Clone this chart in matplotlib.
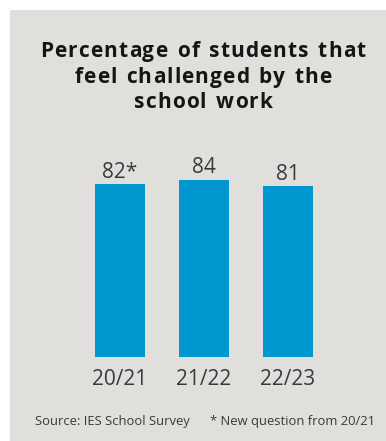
import matplotlib
matplotlib.use("Agg")
import matplotlib.pyplot as plt
from matplotlib.patches import Rectangle
from matplotlib.font_manager import FontProperties

categories = ["20/21", "21/22", "22/23"]
values = [82, 84, 81]
value_labels = ["82*", "84", "81"]
title_lines = ["Percentage of students that", "feel challenged by the", "school work"]
source_note = "Source: IES School Survey"
footnote = "* New question from 20/21"

W, H = 386, 441
DPI = 100
BG = "#E0DFDB"
BAR = "#0097D1"
TXT = "#3a3a3a"

plt.rcParams["font.family"] = ["Open Sans", "DejaVu Sans"]

fig = plt.figure(figsize=(W / DPI, H / DPI), dpi=DPI)
fig.patch.set_facecolor("white")
fig.patches.append(Rectangle((10 / W, 0), 1 - 10 / W, 1 - 10 / H,
                             transform=fig.transFigure, facecolor=BG,
                             edgecolor="none", zorder=-10))

# axes placed in pixel terms
ax_left, ax_right = 60, 350
ax_bottom, ax_top = 356.7, 140
ax = fig.add_axes([ax_left / W, 1 - ax_bottom / H,
                   (ax_right - ax_left) / W, (ax_bottom - ax_top) / H])
ax.set_facecolor("none")
ax.set_zorder(1)
spacing = 84.0
ax.set_xlim(-(120 - ax_left) / spacing, 2 + (ax_right - 288) / spacing)
px_per_unit = (ax_bottom - 180) / 84
ax.set_ylim(0, (ax_bottom - ax_top) / px_per_unit)

x = list(range(len(categories)))
ax.bar(x, values, width=50 / spacing, color=BAR, zorder=2)
for xi, v, lab in zip(x, values, value_labels):
    ax.annotate(lab, (xi, v), xytext=(0, 1.2), textcoords="offset points",
                ha="center", va="bottom", fontsize=15, color=TXT)

ax.set_xticks(x)
ax.set_xticklabels(categories, fontsize=15, color=TXT)
ax.tick_params(axis="x", length=0, pad=8.5)
ax.set_yticks([])
for s in ax.spines.values():
    s.set_visible(False)

# title drawn with letter tracking, one line at a time
renderer = fig.canvas.get_renderer()
tprop = FontProperties(family=["Open Sans", "DejaVu Sans"], weight="bold", size=15)
tracking = 1.1   # extra px between characters
word_gap = 2.0   # extra px for spaces
title_cx = 203
baselines = [57.3, 83.0, 108.5]
for line, base in zip(title_lines, baselines):
    widths = [renderer.get_text_width_height_descent(ch, tprop, ismath=False)[0]
              + (word_gap if ch == " " else 0) for ch in line]
    total = sum(widths) + tracking * (len(line) - 1)
    xpos = title_cx - total / 2
    for ch, w in zip(line, widths):
        if ch != " ":
            fig.text(xpos / W, 1 - base / H, ch, fontproperties=tprop,
                     ha="left", va="baseline", color="#151515")
        xpos += w + tracking

fig.text(35 / W, 1 - 421 / H, source_note, ha="left", va="center",
         fontsize=9.4, color=TXT)
fig.text(375 / W, 1 - 421 / H, footnote, ha="right", va="center",
         fontsize=9.4, color=TXT)

fig.savefig("out.png", dpi=DPI, facecolor=fig.get_facecolor())
